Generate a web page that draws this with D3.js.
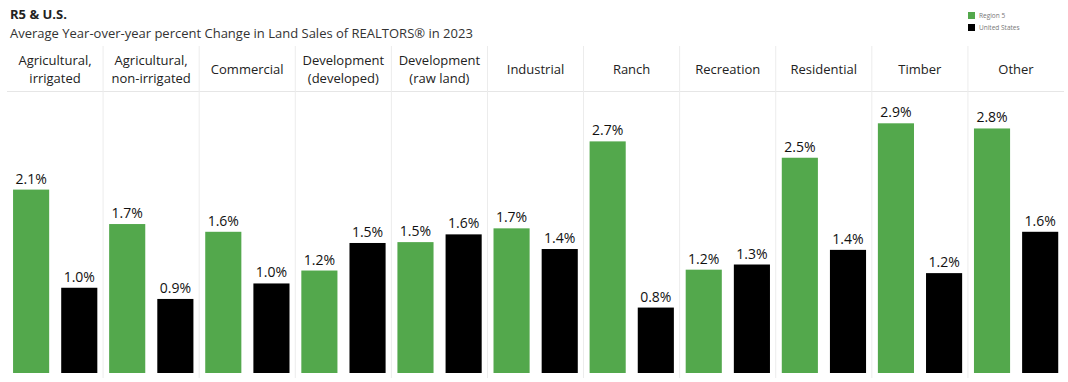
<!DOCTYPE html>
<html><head><meta charset="utf-8">
<script src="https://cdn.jsdelivr.net/npm/d3@7"></script>
<style>
body{margin:0;background:#fff;}
text{font-family:"Open Sans",sans-serif;}
</style></head>
<body><svg id="c" width="1068" height="382"></svg>
<script>
const categories = [["Agricultural,","irrigated"],["Agricultural,","non-irrigated"],["Commercial"],["Development","(developed)"],["Development","(raw land)"],["Industrial"],["Ranch"],["Recreation"],["Residential"],["Timber"],["Other"]];
const seriesNames = ["Region 5","United States"];
const region5 = [2.13,1.73,1.64,1.19,1.52,1.68,2.69,1.20,2.50,2.90,2.84];
const unitedStates = [0.99,0.86,1.04,1.51,1.61,1.44,0.76,1.26,1.43,1.16,1.64];
const colors = ["#53a84c","#000000"];

const svg = d3.select("#c");
const x0 = d3.scaleBand().domain(d3.range(categories.length)).range([7,1064]).padding(0);
const bw = x0.bandwidth();
const x1 = d3.scaleBand().domain([0,1]).range([bw*0.063, bw*0.94]).paddingInner(0.25).paddingOuter(0);
const y = d3.scaleLinear().domain([0,2.9]).range([373,123.3]);

// title
svg.append("text").attr("x",10).attr("y",19).attr("font-size",13).attr("font-weight","bold").attr("fill","#222").text("R5 & U.S.");
svg.append("text").attr("x",10).attr("y",38).attr("font-size",13).attr("fill","#333").text("Average Year-over-year percent Change in Land Sales of REALTORS\u00ae in 2023");

// legend
const lg = svg.append("g").attr("transform","translate(968,12)");
seriesNames.forEach((s,i)=>{
  lg.append("rect").attr("x",0).attr("y",i*12).attr("width",7).attr("height",7).attr("fill",colors[i]);
  lg.append("text").attr("x",11).attr("y",i*12+6).attr("font-size",6.5).attr("fill","#777").text(s);
});

// separators
svg.append("line").attr("x1",7).attr("x2",1064).attr("y1",91.5).attr("y2",91.5).attr("stroke","#e6e6e6");
d3.range(1,categories.length).forEach(i=>{
  svg.append("line").attr("x1",x0(i)).attr("x2",x0(i)).attr("y1",46).attr("y2",378).attr("stroke","#ececec");
});

// headers
categories.forEach((c,i)=>{
  const cx = x0(i)+bw/2;
  const t = svg.append("text").attr("text-anchor","middle").attr("font-size",13).attr("fill","#222");
  if(c.length===1){
    t.append("tspan").attr("x",cx).attr("y",74).text(c[0]);
  } else {
    t.append("tspan").attr("x",cx).attr("y",65).text(c[0]);
    t.append("tspan").attr("x",cx).attr("y",83).text(c[1]);
  }
});

// bars
const rows = categories.map((c,i)=>[region5[i],unitedStates[i]]);
const g = svg.selectAll("g.cat").data(rows).join("g").attr("class","cat")
  .attr("transform",(d,i)=>`translate(${x0(i)},0)`);
g.selectAll("rect").data(d=>d).join("rect")
  .attr("x",(d,j)=>x1(j)).attr("width",x1.bandwidth())
  .attr("y",d=>y(d)).attr("height",d=>y(0)-y(d))
  .attr("fill",(d,j)=>colors[j]);
g.selectAll("text.v").data(d=>d).join("text").attr("class","v")
  .attr("x",(d,j)=>x1(j)+x1.bandwidth()/2).attr("y",d=>y(d)-6)
  .attr("text-anchor","middle").attr("font-size",14).attr("fill","#111")
  .text(d=>d.toFixed(1)+"%");
</script></body></html>
